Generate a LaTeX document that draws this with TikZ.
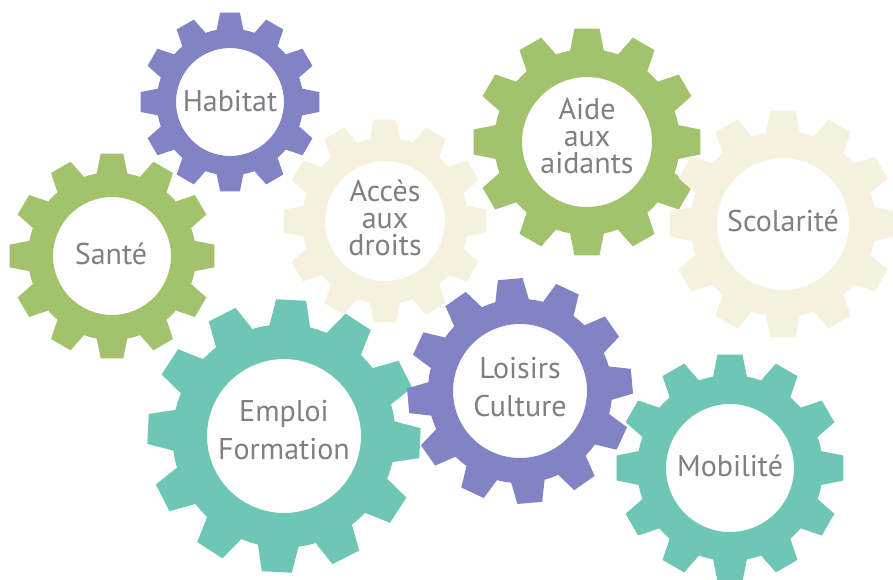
\documentclass[tikz,border=0pt]{standalone}
\usepackage{fontspec}
\setmainfont{PT Sans}
\definecolor{gpurple}{HTML}{8183C4}
\definecolor{ggreen}{HTML}{A2C26C}
\definecolor{gteal}{HTML}{6EC6B4}
\definecolor{gcream}{HTML}{F5F1DE}
\definecolor{gtext}{HTML}{7F7F84}
\newcommand\mygear[6]{%
  \fill[#6,even odd rule] ([shift={(#1,#2)}]{#5-10.5}:{0.815*#3})
  \foreach \k in {0,...,11}{
    -- ([shift={(#1,#2)}]{#5+30*\k-10.5}:{0.815*#3})
    -- ([shift={(#1,#2)}]{#5+30*\k-6.3}:{#3})
    -- ([shift={(#1,#2)}]{#5+30*\k+6.3}:{#3})
    -- ([shift={(#1,#2)}]{#5+30*\k+10.5}:{0.815*#3})
    -- ([shift={(#1,#2)}]{#5+30*\k+15}:{0.815*#3})
  } -- cycle
  (#1,#2) circle[radius=#4];
}
\tikzset{
  lbl/.style={text=gtext,align=center,inner sep=0pt},
  three/.style={lbl,font=\fontsize{30}{27}\selectfont},
  two/.style={lbl,font=\fontsize{30}{38}\selectfont},
}
\begin{document}
\begin{tikzpicture}[x=1pt,y=-1pt]
\useasboundingbox (0,0) rectangle (893,579);
\fill[white] (0,0) rectangle (893,579);
\mygear{230}{102}{90}{54}{0}{gpurple}
\mygear{112}{256}{103}{59}{0}{ggreen}
\mygear{385}{221}{102}{60}{0}{gcream}
\mygear{587}{142}{114}{65}{0}{ggreen}
\mygear{783}{224}{114}{66}{0}{gcream}
\mygear{284}{436}{137}{77}{3}{gteal}
\mygear{520}{391}{113}{67}{-5}{gpurple}
\mygear{730}{468}{114}{64}{0}{gteal}
\node[three] (habitat) at (230,101) {Habitat};
\node[three] (sante) at (111,254) {Santé};
\node[three] (acces) at (385,218) {Accès\\aux\\droits};
\node[three] (aide) at (587,136) {Aide\\aux\\aidants};
\node[three] (scol) at (783,221) {Scolarité};
\node[two] (emploi) at (284,430) {Emploi\\Formation};
\node[two] (loisirs) at (520,387) {Loisirs\\Culture};
\node[three] (mobil) at (730,466) {Mobilité};
\end{tikzpicture}
\end{document}
